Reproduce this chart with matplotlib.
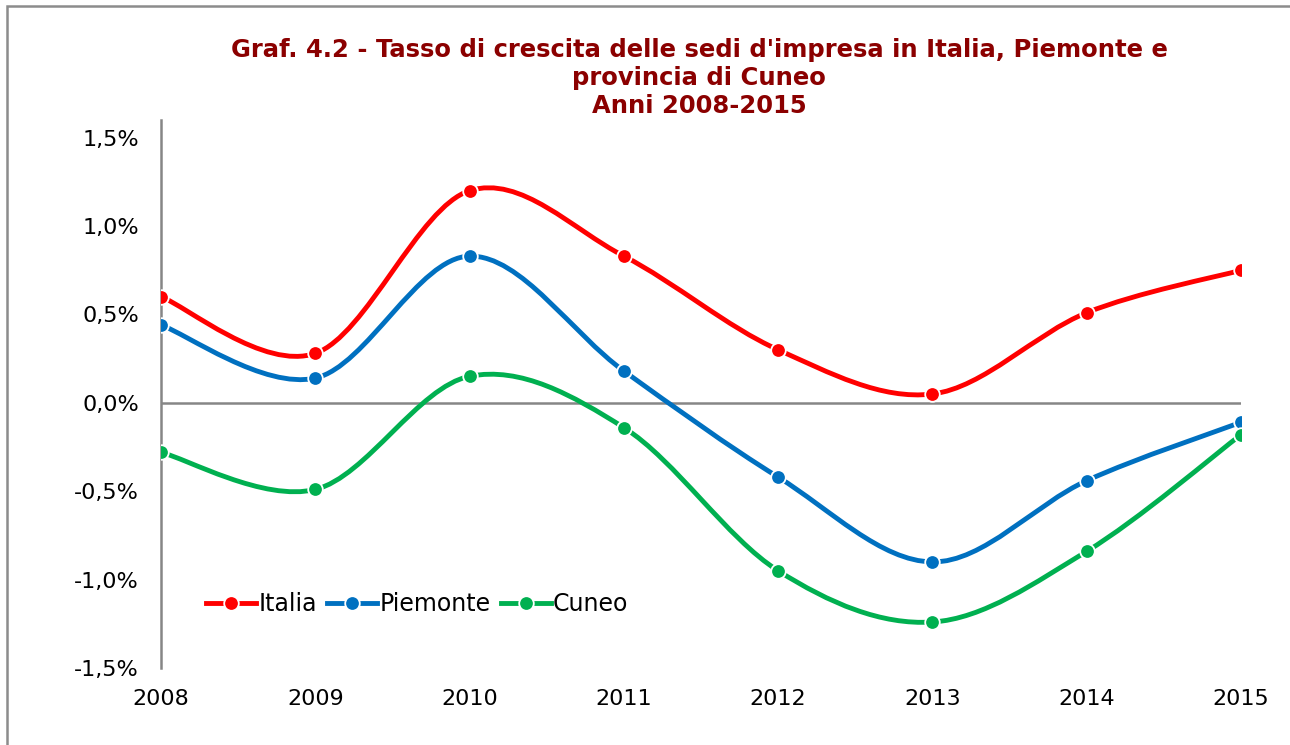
import matplotlib.pyplot as plt
import numpy as np
from matplotlib.path import Path
from matplotlib.patches import PathPatch, Rectangle
from matplotlib.lines import Line2D
from matplotlib.ticker import FuncFormatter

# Data (growth rate, %)
years = [2008, 2009, 2010, 2011, 2012, 2013, 2014, 2015]
italia = [0.60, 0.28, 1.20, 0.83, 0.30, 0.05, 0.51, 0.75]
piemonte = [0.44, 0.14, 0.83, 0.18, -0.42, -0.90, -0.44, -0.11]
cuneo = [-0.28, -0.49, 0.15, -0.14, -0.95, -1.24, -0.84, -0.18]

series_names = ['Italia', 'Piemonte', 'Cuneo']
series_values = [italia, piemonte, cuneo]
colors = ['#FF0000', '#0070C0', '#00B050']

title = ("Graf. 4.2 - Tasso di crescita delle sedi d'impresa in Italia, Piemonte e\n"
         "provincia di Cuneo\nAnni 2008-2015")

AXIS_GREY = '#868686'


def smooth_path(x, y):
    """Excel-like smoothed line as cubic bezier path (data coords)"""
    pts = np.column_stack([x, y]).astype(float)
    n = len(pts)
    verts = [pts[0]]
    codes = [Path.MOVETO]
    for i in range(n - 1):
        p0 = pts[max(i - 1, 0)]
        p1 = pts[i]
        p2 = pts[i + 1]
        p3 = pts[min(i + 2, n - 1)]
        c1 = p1 + (p2 - p0) / 6.0
        c2 = p2 - (p3 - p1) / 6.0
        verts += [c1, c2, p2]
        codes += [Path.CURVE4] * 3
    return Path(verts, codes)


fig = plt.figure(figsize=(12.9, 7.45), dpi=100)
ax = fig.add_axes([161 / 1290, 1 - 668 / 745, 1080 / 1290, 548 / 745])

# outer chart frame (only left/top visible in the crop)
fig.patches.append(Rectangle((7 / 1290, -0.1), 1.2, 1 - 6 / 745 + 0.1,
                             transform=fig.transFigure, fill=False,
                             edgecolor='#8c8c8c', linewidth=1.8))

x = np.arange(len(years))
handles = []
for name, vals, col in zip(series_names, series_values, colors):
    patch = PathPatch(smooth_path(x, vals), facecolor='none', edgecolor=col,
                      linewidth=3.5, capstyle='round', zorder=3)
    ax.add_patch(patch)
    ax.plot(x, vals, linestyle='none', marker='o', markersize=10.5,
            markerfacecolor=col, markeredgecolor='white', markeredgewidth=1.3,
            zorder=4)
    handles.append(Line2D([], [], color=col, linewidth=3.5, marker='o',
                          markersize=10.5, markerfacecolor=col,
                          markeredgecolor='white', markeredgewidth=1.3))

ax.set_xlim(0, len(years) - 1)
ax.set_ylim(-1.5, 1.6)
ax.set_yticks([-1.5, -1.0, -0.5, 0.0, 0.5, 1.0, 1.5])
ax.yaxis.set_major_formatter(FuncFormatter(lambda v, p: f'{v:.1f}%'.replace('.', ',')))
ax.set_xticks(x)
ax.set_xticklabels([str(yr) for yr in years])
ax.tick_params(axis='both', length=0, labelsize=16, colors='black')
ax.tick_params(axis='y', pad=16)
ax.tick_params(axis='x', pad=15)

for side in ['top', 'right', 'bottom']:
    ax.spines[side].set_visible(False)
ax.spines['left'].set_color(AXIS_GREY)
ax.spines['left'].set_linewidth(1.8)
ax.axhline(0, color=AXIS_GREY, linewidth=1.8, zorder=2)

fig.text(699 / 1290, 1 - 38 / 745, title, ha='center', va='top',
         fontsize=17.5, fontweight='bold', color='#8B0000', linespacing=1.22)

ax.legend(handles, series_names, loc='center left',
          bbox_to_anchor=(0.042, 0.117), ncol=3, frameon=False,
          fontsize=17, handlelength=2.1, handletextpad=0.1,
          columnspacing=0.45, borderpad=0, borderaxespad=0)

fig.savefig('out.png', dpi=100)
